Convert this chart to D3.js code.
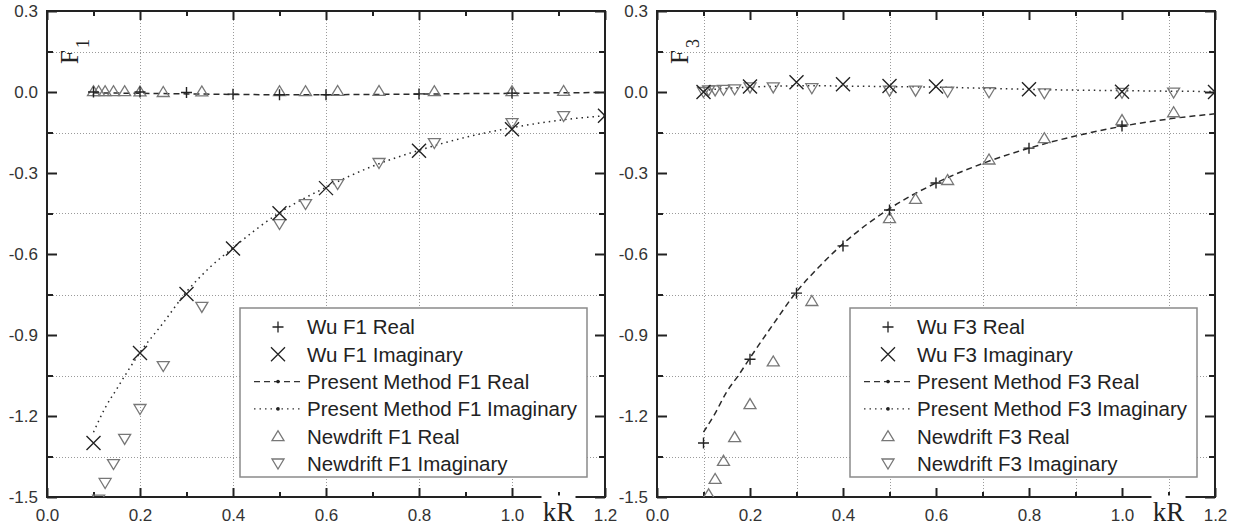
<!DOCTYPE html>
<html><head><meta charset="utf-8">
<script src="https://cdn.jsdelivr.net/npm/d3@7"></script>
<style>body{margin:0;background:#fff}svg{display:block}</style>
</head><body><svg id="c" width="1233" height="528"></svg>
<script>
// ---- tick definitions ----
const xMajorTicks = [0, 0.2, 0.4, 0.6, 0.8, 1.0, 1.2];
const xMajorLabels = ["0.0", "0.2", "0.4", "0.6", "0.8", "1.0", "1.2"];
const xMinorTicks = [0.1, 0.3, 0.5, 0.7, 0.9, 1.1];
const yMajorTicks = [0.3, 0, -0.3, -0.6, -0.9, -1.2, -1.5];
const yMajorLabels = ["0.3", "0.0", "-0.3", "-0.6", "-0.9", "-1.2", "-1.5"];
const yMinorTicks = [0.15, -0.15, -0.45, -0.75, -1.05, -1.35];
const xAxisTitle = "kR";

// ---- Wu data ----
const wuKR = [0.1, 0.2, 0.3, 0.4, 0.5, 0.6, 0.8, 1.0];
const wuKRImag = [0.1, 0.2, 0.3, 0.4, 0.5, 0.6, 0.8, 1.0, 1.2];
const wuF1Real = [0.0, 0.0, -0.002, -0.008, -0.01, -0.01, -0.007, -0.004];
const wuF1Imag = [-1.30, -0.967, -0.748, -0.58, -0.449, -0.356, -0.218, -0.138, -0.088];
const wuF3Real = [-1.30, -0.99, -0.745, -0.57, -0.437, -0.337, -0.208, -0.126];
const wuF3Imag = [0.0, 0.02, 0.036, 0.029, 0.022, 0.02, 0.01, 0.001, 0.0];

// ---- Present method data ----
const pmKR = [0.1, 0.125, 0.15, 0.175, 0.2, 0.25, 0.3, 0.35, 0.4, 0.5, 0.6, 0.7, 0.8, 0.9, 1.0, 1.1, 1.2];
const pmF1Real = [-0.003, -0.004, -0.004, -0.005, -0.005, -0.006, -0.007, -0.008, -0.009, -0.01, -0.01, -0.009, -0.008, -0.006, -0.005, -0.003, -0.002];
const pmF1Imag = [-1.26, -1.17, -1.10, -1.03, -0.965, -0.855, -0.74, -0.65, -0.577, -0.447, -0.353, -0.275, -0.216, -0.168, -0.132, -0.105, -0.088];
const pmF3Real = [-1.26, -1.19, -1.11, -1.05, -0.985, -0.86, -0.74, -0.645, -0.562, -0.432, -0.337, -0.265, -0.208, -0.163, -0.127, -0.1, -0.081];
const pmF3Imag = [0.005, 0.01, 0.013, 0.016, 0.018, 0.021, 0.023, 0.023, 0.022, 0.02, 0.018, 0.014, 0.01, 0.007, 0.005, 0.003, 0.002];

// ---- Newdrift data ----
const ndKR = [0.1, 0.111, 0.125, 0.143, 0.167, 0.2, 0.25, 0.333, 0.5, 0.556, 0.625, 0.714, 0.833, 1.0, 1.111];
const ndF1Real = [0.003, 0.003, 0.003, 0.003, 0.003, 0.002, 0.0, 0.002, 0.003, 0.003, 0.004, 0.004, 0.003, 0.003, 0.004];
const ndF1Imag = [null, -1.51, -1.448, -1.378, -1.285, -1.174, -1.015, -0.796, -0.489, -0.415, -0.341, -0.263, -0.189, -0.115, -0.089];
const ndF3Real = [null, -1.49, -1.433, -1.366, -1.278, -1.156, -0.998, -0.774, -0.467, -0.396, -0.326, -0.25, -0.171, -0.104, -0.075];
const ndF3Imag = [0.0, 0.006, 0.006, 0.008, 0.01, 0.017, 0.017, 0.014, 0.005, 0.005, 0.001, -0.001, -0.005, -0.003, -0.002];

// ---- legend labels ----
const legendF1 = ["Wu F1 Real", "Wu F1 Imaginary", "Present Method F1 Real", "Present Method F1 Imaginary", "Newdrift F1 Real", "Newdrift F1 Imaginary"];
const legendF3 = ["Wu F3 Real", "Wu F3 Imaginary", "Present Method F3 Real", "Present Method F3 Imaginary", "Newdrift F3 Real", "Newdrift F3 Imaginary"];

const svg = d3.select("#c");
const SANS = "Arial, 'Liberation Sans', sans-serif";
const SERIF = "'Times New Roman', 'Liberation Serif', serif";
const DARK = "#222";
const GRAY = "#777";

const shapes = {
  plus: "M-5.5,0H5.5M0,-5.5V5.5",
  cross: "M-7,-7L7,7M-7,7L7,-7",
  up: "M-6,4.5L6,4.5L0,-5.5Z",
  down: "M-6,-4.5L6,-4.5L0,5.5Z"
};

function zip(xs, ys) {
  return xs.map((x, i) => [x, ys[i]]).filter(d => d[1] !== null);
}

function drawPanel(opt) {
  const left = opt.left, top = 11, W = 558, H = 486;
  const x = d3.scaleLinear().domain([0, 1.2]).range([left, left + W]);
  const y = d3.scaleLinear().domain([-1.5, 0.3]).range([top + H, top]);
  const g = svg.append("g");
  const clipId = "clip" + opt.id;
  svg.append("clipPath").attr("id", clipId).append("rect")
    .attr("x", left).attr("y", top).attr("width", W).attr("height", H);

  // grid
  const grid = g.append("g").attr("stroke", "#9a9a9a").attr("stroke-width", 1).attr("stroke-dasharray", "1,2");
  grid.selectAll("line.h").data(yMinorTicks).join("line")
    .attr("x1", left).attr("x2", left + W).attr("y1", d => Math.round(y(d)) + 0.5).attr("y2", d => Math.round(y(d)) + 0.5);
  grid.selectAll("line.v").data(opt.vGrid).join("line")
    .attr("y1", top).attr("y2", top + H).attr("x1", d => Math.round(x(d)) + 0.5).attr("x2", d => Math.round(x(d)) + 0.5);

  // axes ticks (inward)
  function styleAxis(sel) {
    sel.select(".domain").remove();
    sel.selectAll(".tick line").attr("stroke", DARK).attr("stroke-width", 2);
    sel.selectAll(".tick text").attr("fill", "#333").attr("font-family", SANS).attr("font-size", 17);
  }
  g.append("g").attr("transform", `translate(0,${top + H})`)
    .call(d3.axisBottom(x).tickValues(xMajorTicks).tickSize(-9).tickPadding(12)
      .tickFormat((d, i) => xMajorLabels[i])).call(styleAxis);
  g.append("g").attr("transform", `translate(0,${top + H})`)
    .call(d3.axisBottom(x).tickValues(xMinorTicks).tickSize(-5).tickFormat("")).call(styleAxis);
  g.append("g").attr("transform", `translate(0,${top})`)
    .call(d3.axisTop(x).tickValues(xMajorTicks).tickSize(-9).tickFormat("")).call(styleAxis);
  g.append("g").attr("transform", `translate(0,${top})`)
    .call(d3.axisTop(x).tickValues(xMinorTicks).tickSize(-5).tickFormat("")).call(styleAxis);
  g.append("g").attr("transform", `translate(${left},0)`)
    .call(d3.axisLeft(y).tickValues(yMajorTicks).tickSize(-10).tickPadding(9)
      .tickFormat((d, i) => yMajorLabels[i])).call(styleAxis);
  g.append("g").attr("transform", `translate(${left},0)`)
    .call(d3.axisLeft(y).tickValues(yMinorTicks).tickSize(-6).tickFormat("")).call(styleAxis);
  g.append("g").attr("transform", `translate(${left + W},0)`)
    .call(d3.axisRight(y).tickValues(yMajorTicks).tickSize(-10).tickFormat("")).call(styleAxis);
  g.append("g").attr("transform", `translate(${left + W},0)`)
    .call(d3.axisRight(y).tickValues(yMinorTicks).tickSize(-6).tickFormat("")).call(styleAxis);

  // frame
  g.append("rect").attr("x", left).attr("y", top).attr("width", W).attr("height", H)
    .attr("fill", "none").attr("stroke", DARK).attr("stroke-width", 2);

  // data
  const data = g.append("g").attr("clip-path", `url(#${clipId})`);
  const line = d3.line().x(d => x(d[0])).y(d => y(d[1])).curve(d3.curveMonotoneX);
  data.append("path").datum(zip(pmKR, opt.pmReal)).attr("d", line)
    .attr("fill", "none").attr("stroke", "#2a2a2a").attr("stroke-width", 1.5).attr("stroke-dasharray", "6,4");
  data.append("path").datum(zip(pmKR, opt.pmImag)).attr("d", line)
    .attr("fill", "none").attr("stroke", "#2a2a2a").attr("stroke-width", 1.5).attr("stroke-dasharray", "1.5,4");

  function markers(pts, shape, color, sw) {
    data.append("g").selectAll("path").data(pts).join("path")
      .attr("transform", d => `translate(${x(d[0])},${y(d[1])})`)
      .attr("d", shapes[shape]).attr("fill", "none").attr("stroke", color).attr("stroke-width", sw);
  }
  markers(zip(ndKR, opt.ndReal), "up", GRAY, 1.3);
  markers(zip(ndKR, opt.ndImag), "down", GRAY, 1.3);
  markers(zip(wuKR, opt.wuReal), "plus", DARK, 1.4);
  markers(zip(wuKRImag, opt.wuImag), "cross", DARK, 1.4);

  // kR title with white background over the axis line
  g.append("rect").attr("x", x(1.1) - 17).attr("y", top + H - 1.5).attr("width", 34).attr("height", 4).attr("fill", "#fff");
  g.append("text").attr("x", x(1.1)).attr("y", 521).attr("text-anchor", "middle")
    .attr("font-family", SERIF).attr("font-size", 27).attr("fill", DARK).text(xAxisTitle);

  // y title F_n (rotated)
  const ty = g.append("text").attr("transform", `translate(${left + 31},64) rotate(-90)`)
    .attr("font-family", SERIF).attr("fill", DARK);
  ty.append("tspan").attr("font-size", 25).text("F");
  ty.append("tspan").attr("font-size", 18).attr("dx", 2).attr("dy", 11).text(opt.sub);

  // legend
  const lx = left + 193, ly = 308;
  const lg = g.append("g");
  lg.append("rect").attr("x", lx).attr("y", ly).attr("width", 347).attr("height", 169)
    .attr("fill", "#fff").attr("stroke", "#8a8a8a").attr("stroke-width", 1.5);
  const rowY = i => ly + 19 + i * 27.3;
  const symX = lx + 38;
  const items = [
    {type: "plus", color: DARK}, {type: "cross", color: DARK},
    {type: "dash", dash: "6,4"}, {type: "dash", dash: "1.5,4"},
    {type: "up", color: GRAY}, {type: "down", color: GRAY}
  ];
  items.forEach((it, i) => {
    const cy = rowY(i);
    if (it.type === "dash") {
      lg.append("line").attr("x1", lx + 14).attr("x2", lx + 62).attr("y1", cy).attr("y2", cy)
        .attr("stroke", "#333").attr("stroke-width", 1.3).attr("stroke-dasharray", it.dash);
      lg.append("circle").attr("cx", symX).attr("cy", cy).attr("r", 1.8).attr("fill", "#222");
    } else {
      lg.append("path").attr("transform", `translate(${symX},${cy})`).attr("d", shapes[it.type])
        .attr("fill", "none").attr("stroke", it.color).attr("stroke-width", 1.3);
    }
    lg.append("text").attr("x", lx + 67).attr("y", cy).attr("dy", "0.36em")
      .attr("font-family", SANS).attr("font-size", 20.5).attr("fill", DARK).text(opt.legend[i]);
  });
}

drawPanel({id: 1, left: 47, sub: "1", vGrid: [0.2, 0.4, 0.6, 0.8, 1.0],
  wuReal: wuF1Real, wuImag: wuF1Imag, pmReal: pmF1Real, pmImag: pmF1Imag,
  ndReal: ndF1Real, ndImag: ndF1Imag, legend: legendF1});
drawPanel({id: 3, left: 657, sub: "3", vGrid: [0.1, 0.3, 0.5, 0.7, 0.9, 1.1],
  wuReal: wuF3Real, wuImag: wuF3Imag, pmReal: pmF3Real, pmImag: pmF3Imag,
  ndReal: ndF3Real, ndImag: ndF3Imag, legend: legendF3});
</script>
</body></html>
